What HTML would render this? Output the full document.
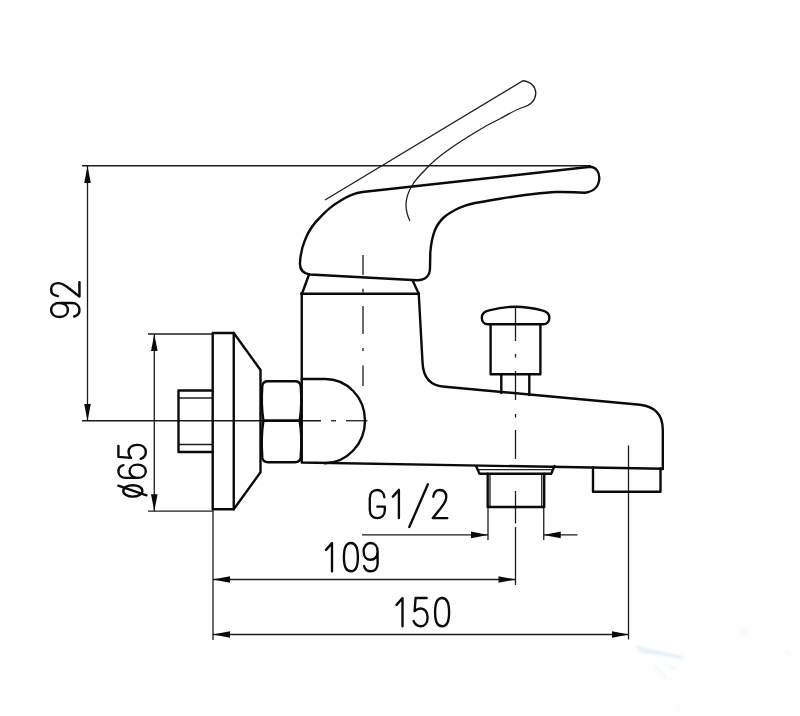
<!DOCTYPE html>
<html><head><meta charset="utf-8"><title>Faucet dimension drawing</title>
<style>
html,body{margin:0;padding:0;background:#fff;}
body{width:800px;height:716px;overflow:hidden;font-family:"Liberation Sans",sans-serif;}
svg{display:block;}
</style></head>
<body>
<svg width="800" height="716" viewBox="0 0 800 716">
<rect width="800" height="716" fill="#ffffff"/>
<defs><filter id="bl" x="-20%" y="-50%" width="140%" height="200%"><feGaussianBlur stdDeviation="1.1"/></filter></defs>
<g fill="#d3e9f4" filter="url(#bl)">
<path d="M636,645.5 L683,656 L684,659.5 L660,655.5 L640,652.5 Z" opacity="0.6"/>
<path d="M655,664 L668,678 L666,680 L653,667 Z" opacity="0.28"/>
<path d="M663,662 L676,668 L674,671 Z" opacity="0.35"/>
<circle cx="744" cy="632" r="4" opacity="0.22"/>
<path d="M780,648 L792,654 L790,656 Z" opacity="0.3"/>
<path d="M678,698 L680,712 L677,712 Z" opacity="0.22"/>
</g>
<g fill="none" stroke="#1c1c1c" stroke-width="1.3" stroke-linecap="butt">
<path d="M82,165.75 L591,165.75"/>
<path d="M87.5,166 L87.5,421"/>
<path d="M82,420.75 L321,420.75"/>
<path d="M331,420.75 L336,420.75"/>
<path d="M346,420.75 L367.5,420.75"/>
<path d="M154.3,334 L154.3,511.2"/>
<path d="M148,334 L213,334"/>
<path d="M148,511.2 L213,511.2"/>
<path d="M213,509 L213,640"/>
<path d="M213,579.5 L515.5,579.5"/>
<path d="M213,634.5 L629,634.5"/>
<path d="M628.5,445.5 L628.5,639.5"/>
<path d="M515.5,308 L515.5,341"/>
<path d="M515.5,354 L515.5,357.5"/>
<path d="M515.5,371 L515.5,400"/>
<path d="M515.5,414 L515.5,417.5"/>
<path d="M515.5,430 L515.5,459"/>
<path d="M515.5,491 L515.5,523.5"/>
<path d="M515.5,527 L515.5,585"/>
<path d="M363,255 L363,275"/>
<path d="M363,288.75 L363,292.5"/>
<path d="M363,306 L363,334"/>
<path d="M363,348 L363,351"/>
<path d="M363,365.5 L363,386"/>
<path d="M362,534.9 L488,534.9"/>
<path d="M543.75,534.9 L577.5,534.9"/>
<path d="M488,507 L488,540"/>
<path d="M543.75,507 L543.75,540"/>
<path d="M478,469.6 L553,469.6"/>
<path d="M178.5,398 L212.5,398"/>
<path d="M178.5,444.5 L212.5,444.5"/>
<path d="M490,474 L490,507"/>
<path d="M541.75,474 L541.75,507"/>
<path d="M325,200 L523,80.75 C531,81.5 536,87 535.75,93.5 C535.5,100 531,105 522.5,107.5 C515,110 508,114.5 500,118.75 C491,123 483,127.5 475,132.5 C466,138 458,143 450,148.75 C441,155 432,162 425,170 C419,176 415,180 412.5,185 C408,192 406,198 406,205 C406,211 407.5,216 410,221"/>
</g>
<g fill="#0a0a0a" stroke="none">
<polygon points="87.5,166 84.2,183 90.8,183"/>
<polygon points="87.5,421 84.2,404 90.8,404"/>
<polygon points="154.3,334 151.0,351 157.60000000000002,351"/>
<polygon points="154.3,511.2 151.0,494.2 157.60000000000002,494.2"/>
<polygon points="213,579.5 230,576.2 230,582.8"/>
<polygon points="515.5,579.5 498.5,576.2 498.5,582.8"/>
<polygon points="213,634.5 230,631.2 230,637.8"/>
<polygon points="629,634.5 612,631.2 612,637.8"/>
<polygon points="488,534.9 471,531.6 471,538.1999999999999"/>
<polygon points="543.75,534.9 560.75,531.6 560.75,538.1999999999999"/>
</g>
<g fill="none" stroke="#0a0a0a" stroke-width="2.4" stroke-linejoin="round" stroke-linecap="round">
<path d="M310,274.5 C303,273.5 299.5,269 300,262.5 C300.5,254 302,247 305,240 C308.5,231 313,224 320,217.5 C326,211 332,205.5 340,201 C347,196.5 354,193 362.5,192 L590.5,166.8 C596,167.5 599.5,172 599.3,178.5 C599,186 594,191.5 585,192.8 C575,192 565,191.8 555,192 C545,192.8 535,193.8 525,195 C516,196.2 508,197.4 500,198.75 C491,200.2 483,201.5 475,203 C469,204.3 463,206 457.5,208.75 C452,211.5 447.5,214 443.75,217.5 C439.5,221.5 437,225 435,230 C432.5,236 431,244 430.3,252.5 L430,268 C430,276 425,280.5 417,280.3 Z"/>
<path d="M309,274.5 L302,293.75"/>
<path d="M412.5,280.3 L418.75,293.75"/>
<path d="M301.25,293.75 L419,293.75"/>
<path d="M301.75,293 L301.75,462.5 L662.8,468.75"/>
<path d="M418.75,293.75 L422.5,362 C423,378 430,386 445,386.7 L640,404.8 C655,406.5 662.8,414 662.8,430 L662.8,469"/>
<path d="M301.75,379 L325,379 C347,379 365,397 365,420.75 C365,444 347,462.8 325,463.2"/>
<path d="M268,381.2 L295,381.2 Q300.2,381.2 300.7,386 C301.6,397 301.4,410 299.7,420.75 L263.4,420.75 C261.7,410 261.5,397 262.3,386 Q262.8,381.2 268,381.2 Z"/>
<path d="M263.4,420.75 L299.7,420.75 C301.4,431 301.6,446 300.7,457.4 Q300.2,462.2 295,462.2 L268,462.2 Q262.8,462.2 262.3,457.4 C261.5,446 261.7,431 263.4,420.75 Z"/>
<path d="M212.7,333 L233.75,333 L233.75,509.2 L212.7,509.2 Z"/>
<path d="M233.75,333 L260.5,370 L260.5,472.2 L233.75,509.2"/>
<path d="M212.7,390.5 L178.5,390.5 L178.5,452 L212.7,452"/>
<path d="M488,324.3 C484.3,324.3 481.8,321.5 481.8,317.8 C481.8,314 484.5,311.4 489,310.4 C498,308 507,306.7 515.5,306.7 C524,306.7 533,308 542,310.4 C546.5,311.4 549.4,314 549.4,317.8 C549.4,321.5 546.8,324.3 543,324.3 Z"/>
<path d="M490.6,324.3 L490.6,374.25 L540.4,374.25 L540.4,324.3"/>
<path d="M501.3,374.25 L501.3,393"/>
<path d="M529.3,374.25 L529.3,395"/>
<path d="M476.25,466.5 L479.5,473.75 L551.25,473.75 L554.5,466"/>
<path d="M487.7,473.75 L487.7,507 L544.2,507 L544.2,473.75"/>
<path d="M593,467.5 L593,491.75 L660.5,491.75 L660.5,468.5"/>
</g>
<g fill="none" stroke="#0a0a0a" stroke-width="2.35" stroke-linejoin="round" stroke-linecap="round">
<path d="M0,6.5 L6,0 L6,27" transform="translate(326,543.1) scale(1,1.045)"/>
<path d="M0,13.5 C0,4.5 2.3,0 7,0 C11.7,0 14,4.5 14,13.5 C14,22.5 11.7,27 7,27 C2.3,27 0,22.5 0,13.5 Z" transform="translate(343.9,543.1) scale(1,1.045)"/>
<path d="M14,8 C14,3 11,0 7,0 C3,0 0,3 0,8 C0,13 3,16 7,16 C11,16 14,13 14,8 L14,19.5 C14,24.5 11,27 7,27 C4,27 1.5,25.5 0.5,22" transform="translate(363.6,543.1) scale(1,1.045)"/>
<path d="M0,6.5 L6,0 L6,27" transform="translate(396.5,598.1) scale(1,1.045)"/>
<path d="M13,0 L2,0 L1,12.5 C3,10.8 5,10 7,10 C11,10 14,13 14,18.5 C14,24 11,27 7,27 C4,27 1.5,25.5 0,22" transform="translate(413.6,598.1) scale(1,1.045)"/>
<path d="M0,13.5 C0,4.5 2.3,0 7,0 C11.7,0 14,4.5 14,13.5 C14,22.5 11.7,27 7,27 C2.3,27 0,22.5 0,13.5 Z" transform="translate(435.1,598.1) scale(1,1.045)"/>
<path d="M15,7 C14.5,2.5 11.5,0 8,0 C3.5,0 0.5,3 0.5,8 L0.5,19 C0.5,24 3.5,27 8,27 C12,27 15.5,24.5 15.5,19.5 L15.5,16 L8,16" transform="translate(369.3,489.9) scale(1,1.045)"/>
<path d="M0,6.5 L6,0 L6,27" transform="translate(392.9,489.9) scale(1,1.045)"/>
<path d="M427.9,484.3 L409.3,527"/>
<path d="M0.5,6.5 C1,2.5 3.5,0 7,0 C11,0 13.5,2.5 13.5,7 C13.5,11 11,14 0,27 L14.5,27" transform="translate(432.8,489.9) scale(1,1.045)"/>
<g transform="translate(51.1,317) rotate(-90)"><g transform="scale(1,1.05)"><path d="M14,8 C14,3 11,0 7,0 C3,0 0,3 0,8 C0,13 3,16 7,16 C11,16 14,13 14,8 L14,19.5 C14,24.5 11,27 7,27 C4,27 1.5,25.5 0.5,22" transform="translate(0,0)"/><path d="M0.5,6.5 C1,2.5 3.5,0 7,0 C11,0 13.5,2.5 13.5,7 C13.5,11 11,14 0,27 L14.5,27" transform="translate(20.4,0)"/></g></g>
<g transform="translate(118.4,498) rotate(-90)"><g transform="scale(1,1.015)"><ellipse cx="7.1" cy="14.2" rx="5.7" ry="9.4"/><path d="M2.7,27.7 L12.3,-0.1"/><path d="M0,19 C0,24 3,27 7,27 C11,27 14,24 14,19 C14,14 11,11 7,11 C3,11 0,14 0,19 L0,7.5 C0,2.5 3,0 7,0 C10,0 12.5,1.5 13.5,5" transform="translate(20.2,0) scale(0.94,1)"/><path d="M13,0 L2,0 L1,12.5 C3,10.8 5,10 7,10 C11,10 14,13 14,18.5 C14,24 11,27 7,27 C4,27 1.5,25.5 0,22" transform="translate(39.1,0)"/></g></g>
</g>
</svg>
</body></html>
